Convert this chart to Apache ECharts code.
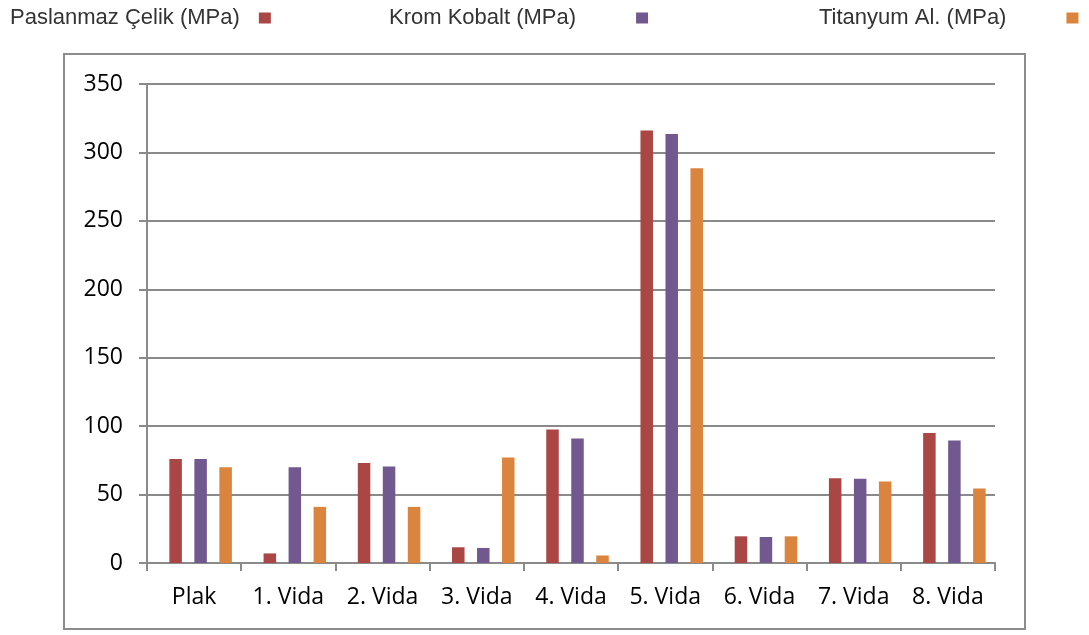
<!DOCTYPE html>
<html>
<head>
<meta charset="utf-8">
<style>
  html, body { margin: 0; padding: 0; background: #fff; }
  #chart { width: 1089px; height: 635px; }
</style>
<script src="https://cdn.jsdelivr.net/npm/echarts@6/dist/echarts.min.js"></script>
</head>
<body>
<div id="chart"></div>
<script>
// Categories and measured stress values (MPa)
const categories = ['Plak', '1. Vida', '2. Vida', '3. Vida', '4. Vida', '5. Vida', '6. Vida', '7. Vida', '8. Vida'];
const seriesNames = ['Paslanmaz Çelik (MPa)', 'Krom Kobalt (MPa)', 'Titanyum Al. (MPa)'];
const paslanmazCelik = [76, 7, 73, 11.5, 97.5, 316, 19.5, 62, 95];
const kromKobalt = [76, 70, 70.5, 11, 91, 313.5, 19, 61.5, 89.5];
const titanyumAl = [70, 41, 41, 77, 5.5, 288.5, 19.5, 59.5, 54.5];
const yTicks = { min: 0, max: 350, interval: 50 };

const colors = ['#AA4643', '#71588F', '#DB843D'];
const gridColor = '#8a8a8a';
const labelFont = 'Open Sans';

const chart = echarts.init(document.getElementById('chart'), null, { renderer: 'canvas' });

// one legend per series so each entry can sit at its own spot along the top
function legendFor(i, left, gap) {
  return {
    data: [seriesNames[i]],
    left: left,
    top: 7,
    align: 'right',
    orient: 'horizontal',
    itemWidth: 12,
    itemHeight: 11,
    icon: 'rect',
    padding: 0,
    textStyle: {
      fontFamily: 'Liberation Sans',
      fontSize: 22,
      color: '#333',
      padding: [0, gap, 5, 0]
    }
  };
}

const values = [paslanmazCelik, kromKobalt, titanyumAl];

chart.setOption({
  animation: false,
  backgroundColor: '#fff',
  color: colors,
  legend: [
    legendFor(0, 10, 14),
    legendFor(1, 389, 55),
    legendFor(2, 819, 55)
  ],
  graphic: [{
    type: 'rect',
    shape: { x: 64, y: 54, width: 961, height: 575 },
    style: { fill: 'none', stroke: '#8c8c8c', lineWidth: 2 },
    silent: true,
    z: -1
  }],
  grid: [
    // axis frame, gridlines and labels
    { left: 147, right: 94, top: 84, bottom: 72 },
    // bar cluster sits slightly right of each category centre
    { left: 153.5, right: 87.5, top: 84, bottom: 72 }
  ],
  xAxis: [{
    gridIndex: 0,
    type: 'category',
    data: categories,
    axisLine: { lineStyle: { color: gridColor, width: 2 } },
    axisTick: { show: true, length: 8, alignWithLabel: false, lineStyle: { color: gridColor, width: 2 } },
    axisLabel: { fontFamily: labelFont, fontSize: 23, color: '#000', margin: 23, interval: 0 }
  }, {
    gridIndex: 1,
    type: 'category',
    data: categories,
    show: false
  }],
  yAxis: [{
    gridIndex: 0,
    type: 'value',
    min: yTicks.min,
    max: yTicks.max,
    interval: yTicks.interval,
    axisLine: { show: true, lineStyle: { color: gridColor, width: 2 } },
    axisTick: { show: true, length: 8, lineStyle: { color: gridColor, width: 2 } },
    splitLine: { show: true, lineStyle: { color: gridColor, width: 2 } },
    axisLabel: { fontFamily: labelFont, fontSize: 23, color: '#000', margin: 24 }
  }, {
    gridIndex: 1,
    type: 'value',
    min: yTicks.min,
    max: yTicks.max,
    interval: yTicks.interval,
    show: false
  }],
  series: seriesNames.map((name, i) => ({
    name: name,
    type: 'bar',
    xAxisIndex: 1,
    yAxisIndex: 1,
    data: values[i],
    barWidth: 12.5,
    barGap: '100%',
    itemStyle: { color: colors[i] }
  }))
});
</script>
</body>
</html>
